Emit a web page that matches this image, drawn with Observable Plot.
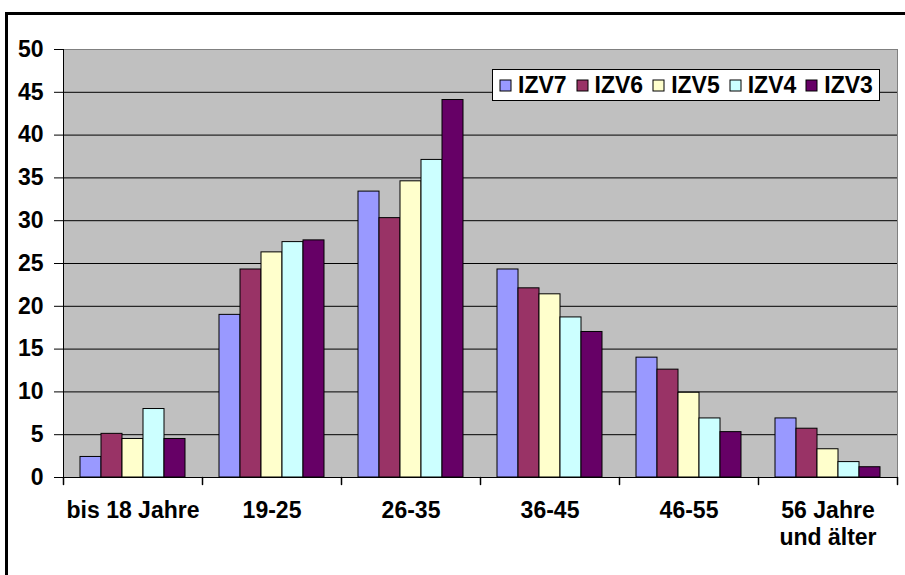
<!DOCTYPE html>
<html>
<head>
<meta charset="utf-8">
<script src="https://cdn.jsdelivr.net/npm/d3@7"></script>
<script src="https://cdn.jsdelivr.net/npm/@observablehq/plot@0.6"></script>
<style>
html, body { margin: 0; padding: 0; background: #fff; }
#wrap { position: relative; width: 905px; height: 575px; overflow: hidden; font-family: "Liberation Sans", Arial, sans-serif; }
#chart { position: absolute; left: 0; top: 0; }
#border { position: absolute; left: 5px; top: 12px; width: 1200px; height: 1200px; border-left: 3px solid #000; border-top: 3px solid #000; pointer-events: none; }
#legend { position: absolute; left: 492px; top: 69px; width: 388px; height: 32px; box-sizing: border-box; background: #fff; border: 1px solid #000; padding-left: 7px; display: flex; align-items: center; }
#legend .lg-swatches { display: flex; align-items: center; flex-wrap: nowrap; margin: 0; min-height: 0; font-family: "Liberation Sans", Arial, sans-serif; font-size: 23px; font-weight: bold; color: #000; }
#legend .lg-swatch { display: inline-flex; align-items: center; margin-right: 10px; }
#legend .lg-swatch > svg { margin-right: 7px; overflow: visible; }
#legend .lg-swatch rect { stroke: #000; stroke-width: 1; }
</style>
</head>
<body>
<div id="wrap">
  <div id="chart"></div>
  <div id="border"></div>
  <div id="legend"></div>
</div>
<script>
// Categories (x axis) and series
const categories = ["bis 18 Jahre", "19-25", "26-35", "36-45", "46-55", "56 Jahre\nund älter"];
const seriesNames = ["IZV7", "IZV6", "IZV5", "IZV4", "IZV3"];
const seriesColors = ["#9999ff", "#993366", "#ffffcc", "#ccffff", "#660066"];

// Values per series, in category order
const izv7 = [2.4, 19.0, 33.4, 24.3, 14.0, 6.9];
const izv6 = [5.1, 24.3, 30.3, 22.1, 12.6, 5.7];
const izv5 = [4.5, 26.3, 34.6, 21.4, 9.9, 3.3];
const izv4 = [8.0, 27.5, 37.1, 18.7, 6.9, 1.8];
const izv3 = [4.5, 27.7, 44.1, 17.0, 5.3, 1.2];

// Tick labels
const yTicks = [0, 5, 10, 15, 20, 25, 30, 35, 40, 45, 50];
const gridTicks = [5, 10, 15, 20, 25, 30, 35, 40, 45];

const seriesValues = [izv7, izv6, izv5, izv4, izv3];
const rows = seriesNames.flatMap((s, i) =>
  categories.map((c, j) => ({category: c, series: s, value: seriesValues[i][j]}))
);

const tickShape = {
  draw(context, l) { context.moveTo(0, 0); context.lineTo(0, -l); }
};

const chart = Plot.plot({
  width: 905,
  height: 575,
  marginLeft: 63,
  marginRight: 8,
  marginTop: 49,
  marginBottom: 98,
  style: {fontFamily: "'Liberation Sans', Arial, sans-serif", fontWeight: "bold", fontSize: "23px", color: "#000", background: "transparent", overflow: "visible"},
  fx: {domain: categories, padding: 0, label: null},
  x: {domain: seriesNames, paddingInner: 0, paddingOuter: 0.75, axis: null},
  y: {domain: [0, 50], label: null},
  color: {domain: seriesNames, range: seriesColors},
  marks: [
    Plot.frame({fill: "#c0c0c0", stroke: "none", shapeRendering: "crispEdges"}),
    Plot.gridY(gridTicks, {stroke: "#000", strokeOpacity: 1, strokeWidth: 1}),
    Plot.frame({anchor: "top", stroke: "#808080"}),
    Plot.frame({anchor: "right", facetAnchor: "right", stroke: "#808080"}),
    Plot.barY(rows, {fx: "category", x: "series", y: "value", fill: "series", stroke: "#000", strokeWidth: 1}),
    Plot.ruleY([0], {stroke: "#000"}),
    Plot.frame({anchor: "left", facetAnchor: "left", stroke: "#000"}),
    Plot.vector([0], {frameAnchor: "bottom-left", length: 7, rotate: 180, anchor: "start", stroke: "#000", shape: tickShape}),
    Plot.vector([0], {frameAnchor: "bottom-right", facetAnchor: "right", length: 7, rotate: 180, anchor: "start", stroke: "#000", shape: tickShape}),
    Plot.axisY(yTicks, {tickSize: 9, tickPadding: 11, fontSize: 23, fontWeight: "bold", label: null, stroke: "#000"}),
    Plot.axisFx({anchor: "bottom", tickSize: 0, tickPadding: 22, fontSize: 23, fontWeight: "bold", lineHeight: 1.15, label: null})
  ]
});
document.getElementById("chart").appendChild(chart);

const legend = chart.legend("color", {swatchSize: 11, className: "lg"});
document.getElementById("legend").appendChild(legend);
</script>
</body>
</html>
